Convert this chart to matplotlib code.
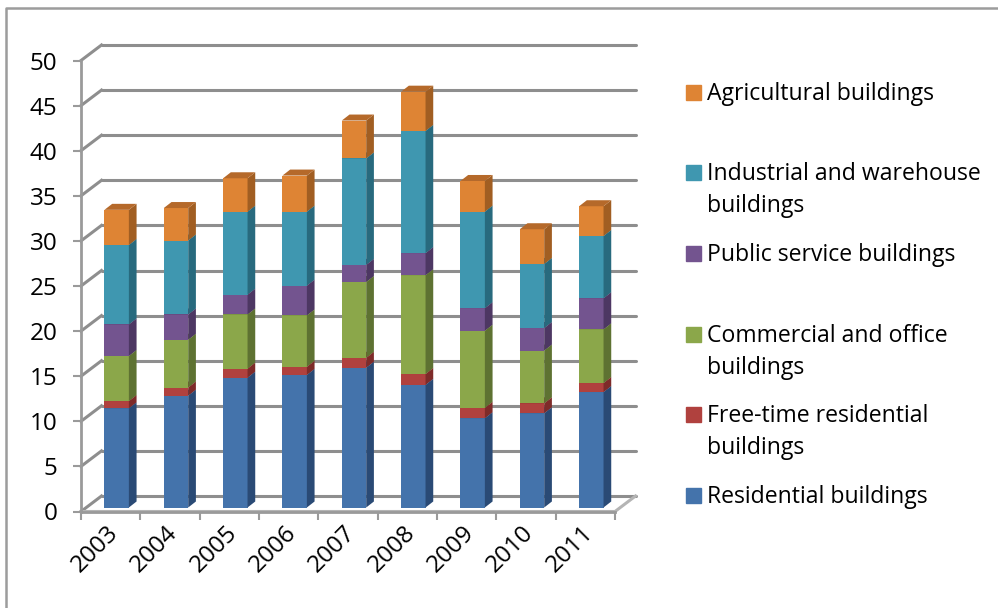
import numpy as np
import matplotlib
matplotlib.use("Agg")
import matplotlib.pyplot as plt
from matplotlib.patches import Rectangle

plt.rcParams['font.family'] = 'Open Sans'

years = ['2003', '2004', '2005', '2006', '2007', '2008', '2009', '2010', '2011']
yticks = [0, 5, 10, 15, 20, 25, 30, 35, 40, 45, 50]

residential = [11.0, 12.4, 14.4, 14.7, 15.5, 13.6, 9.9, 10.45, 12.8]
freetime = [0.8, 0.9, 1.0, 0.9, 1.1, 1.2, 1.15, 1.1, 1.0]
commercial = [5.0, 5.3, 6.0, 5.7, 8.4, 10.95, 8.55, 5.85, 5.95]
public = [3.5, 2.8, 2.2, 3.3, 1.9, 2.45, 2.5, 2.5, 3.45]
industrial = [8.8, 8.2, 9.2, 8.2, 11.8, 13.55, 10.7, 7.1, 6.9]
agricultural = [3.9, 3.6, 3.7, 4.0, 4.2, 4.35, 3.4, 3.85, 3.3]

series = [residential, freetime, commercial, public, industrial, agricultural]
#front, side, top colours for each series
front_cols = ['#4473AB', '#B0413E', '#8BA74A', '#73548F', '#3F97B0', '#DE8434']
side_cols = ['#2A4A75', '#7E2B29', '#5E7232', '#4D3763', '#286A7E', '#A15E22']
top_cols = ['#33598A', '#93332F', '#6F873A', '#5C4275', '#2F7C92', '#B5692A']

W, H = 998, 608
fig = plt.figure(figsize=(W / 100, H / 100), dpi=100)

#axes box = front plane of the chart, in pixels
left, right, y0, y50 = 81, 615, 511.5, 60.5
ax = fig.add_axes([left / W, 1 - y0 / H, (right - left) / W, (y0 - y50) / H])
ax.set_xlim(0, 9)
ax.set_ylim(0, 50)
ax.patch.set_visible(False)

px_x = 9 / (right - left)
px_y = 50 / (y0 - y50)
depth_x = 20.5 * px_x
depth_y = 15.5 * px_y
grid = '#8E8E8E'

#gridlines on back wall plus the slanted bit on the left
for t in yticks:
    ax.plot([depth_x, 9 + depth_x], [t + depth_y, t + depth_y], color=grid, lw=2.2,
            clip_on=False, solid_capstyle='round', zorder=1)
    ax.plot([0, depth_x], [t, t + depth_y], color=grid, lw=2.2, clip_on=False, zorder=1)
#floor
ax.plot([0, 9, 9 + depth_x], [0, 0, depth_y], color='#B4B4B4', lw=2.2, clip_on=False, zorder=1)

for s in ['top', 'right']:
    ax.spines[s].set_visible(False)
for s in ['left', 'bottom']:
    ax.spines[s].set_color('#9A9A9A')
    ax.spines[s].set_linewidth(2.0)
    ax.spines[s].set_zorder(1.5)

#bars, drawn with a little lift off the floor
bar_w = 24.4 * px_x
bar_dx = 7.7 * px_x
bar_dy = 6 * px_y
lift = 4 * px_y
centers = np.arange(9) + 0.5 + 6 * px_x

bottom = np.zeros(9) + lift
for vals, fc, sc, tc in zip(series, front_cols, side_cols, top_cols):
    vals = np.array(vals)
    ax.bar(centers, vals, bar_w, bottom=bottom, color=fc, zorder=3, clip_on=False)
    for i in range(9):
        xr = centers[i] + bar_w / 2
        xl = centers[i] - bar_w / 2
        b = bottom[i]
        t = b + vals[i]
        ax.fill([xr, xr + bar_dx, xr + bar_dx, xr], [b, b + bar_dy, t + bar_dy, t],
                color=sc, lw=0, zorder=3, clip_on=False)
        ax.fill([xl, xr, xr + bar_dx, xl + bar_dx], [t, t, t + bar_dy, t + bar_dy],
                color=tc, lw=0, zorder=3, clip_on=False)
    bottom = bottom + vals

ax.set_yticks(yticks)
ax.set_xticks(np.arange(10))
ax.set_xticklabels([])
ax.tick_params(axis='both', color='#9A9A9A', width=1.5, length=6)
ax.tick_params(axis='y', labelsize=17.5, pad=11)

#year labels sit between ticks, rotated
for i, y in enumerate(years):
    ax.annotate(y, (i + 0.5, 0), xytext=(-3, -7), textcoords='offset points', rotation=45,
                ha='right', va='top', rotation_mode='anchor', fontsize=17.5, annotation_clip=False)

#legend, placed by hand because rows are uneven
legend_rows = [
    ('Agricultural buildings', 5, 92),
    ('Industrial and warehouse\nbuildings', 4, 172),
    ('Public service buildings', 3, 253),
    ('Commercial and office\nbuildings', 2, 334),
    ('Free-time residential\nbuildings', 1, 414),
    ('Residential buildings', 0, 495),
]
for label, k, ypx in legend_rows:
    fig.add_artist(Rectangle((686 / W, 1 - (ypx + 8) / H), 15 / W, 15 / H, color=front_cols[k],
                             transform=fig.transFigure))
    fig.text(707 / W, 1 - (ypx - 10) / H, label, fontsize=16.6, va='top', ha='left', linespacing=1.42)

#outer frame
fig.add_artist(plt.Line2D([5.5 / W, 5.5 / W, 1], [0, 1 - 8 / H, 1 - 8 / H], color='#9C9C9C', lw=1.8))

fig.savefig('out.png', dpi=100)
